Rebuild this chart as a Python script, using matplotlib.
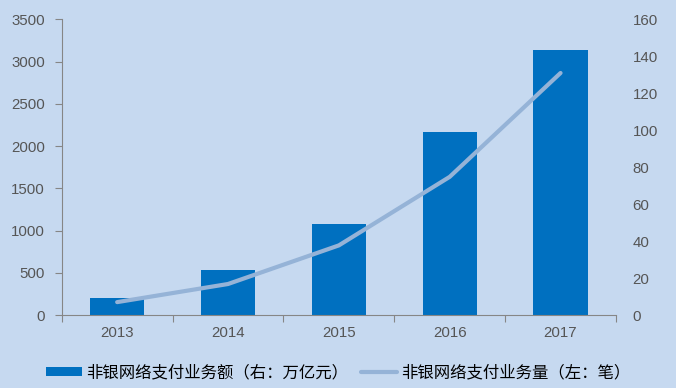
import matplotlib.pyplot as plt

# data
years = ['2013', '2014', '2015', '2016', '2017']
amount = [201, 533, 1078, 2168, 3140]     # bars, left axis
volume = [7.0, 16.8, 37.7, 74.8, 131.0]   # line, right axis
bar_label = '非银网络支付业务额（右：万亿元）'
line_label = '非银网络支付业务量（左：笔）'

BG = '#C6D9F0'
BAR_COLOR = '#0070C0'
LINE_COLOR = '#95B3D7'
TEXT_COLOR = '#555555'
AXIS_COLOR = '#868686'

plt.rcParams['font.family'] = ['Liberation Sans', 'Noto Sans CJK SC', 'DejaVu Sans']

fig = plt.figure(figsize=(6.76, 3.88), dpi=100, facecolor=BG)
ax = fig.add_axes([0.0913, 0.188, 0.8199, 0.762])
ax.set_facecolor(BG)
x = list(range(len(years)))

bars = ax.bar(x, amount, width=0.49, color=BAR_COLOR, label=bar_label, zorder=2)
ax.set_ylim(0, 3500)
ax.set_yticks(range(0, 3501, 500))
ax.set_xlim(-0.5, len(years) - 0.5)

# category boundary ticks, labels centered on the bars
ax.set_xticks([i - 0.5 for i in range(len(years) + 1)])
ax.set_xticklabels([])
ax.set_xticks(x, minor=True)
ax.set_xticklabels(years, minor=True)
ax.tick_params(axis='x', which='major', length=5, color=AXIS_COLOR, direction='out')
ax.tick_params(axis='x', which='minor', length=0, pad=8, labelsize=10.8, labelcolor=TEXT_COLOR)
ax.tick_params(axis='y', length=5, color=AXIS_COLOR, pad=7, labelsize=10.8, labelcolor=TEXT_COLOR)

for side in ['top', 'right']:
    ax.spines[side].set_visible(False)
for side in ['left', 'bottom']:
    ax.spines[side].set_color(AXIS_COLOR)

ax2 = ax.twinx()
ax2.patch.set_visible(False)
line, = ax2.plot(x, volume, color=LINE_COLOR, linewidth=3, solid_capstyle='round',
                 label=line_label, zorder=3)
ax2.set_ylim(0, 160)
ax2.set_yticks(range(0, 161, 20))
ax2.tick_params(axis='y', length=0, pad=12, labelsize=10.8, labelcolor=TEXT_COLOR)
for side in ['top', 'right', 'left', 'bottom']:
    ax2.spines[side].set_visible(False)

leg = fig.legend([bars, line], [bar_label, line_label], loc='center',
                 bbox_to_anchor=(0.5, 1 - 373 / 388), ncol=2, frameon=False,
                 handlelength=2.2, handleheight=0.5,
                 handletextpad=0.25, columnspacing=0.8,
                 prop={'family': ['Noto Sans CJK SC', 'DejaVu Sans'], 'size': 11.8})
for t in leg.get_texts():
    t.set_color('#000000')

fig.savefig('out.png', dpi=100, facecolor=BG)
